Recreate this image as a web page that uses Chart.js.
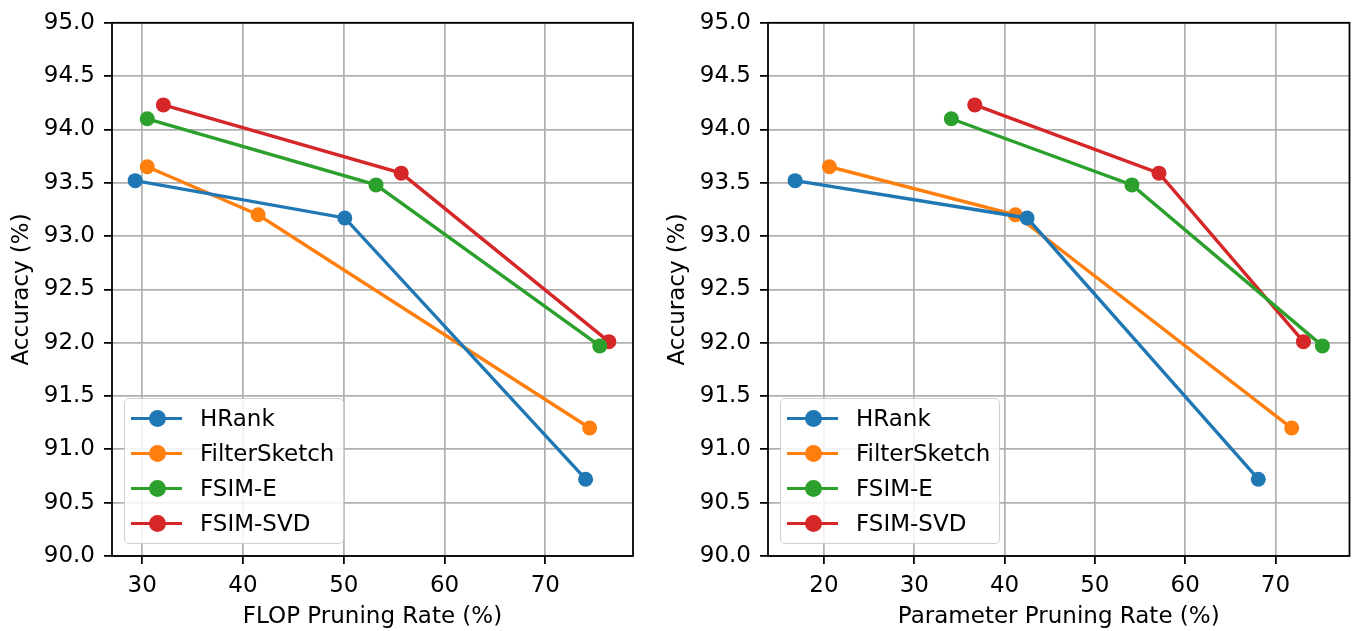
<!DOCTYPE html>
<html>
<head>
<meta charset="utf-8">
<script src="https://cdn.jsdelivr.net/npm/chart.js@4.4.1/dist/chart.umd.min.js"></script>
<style>
html,body{margin:0;padding:0;background:#fff;width:1357px;height:631px;overflow:hidden;}
.panel{position:absolute;top:0;height:631px;}
.panel canvas{display:block;}
.legend{position:absolute;box-sizing:border-box;border:1.3px solid #cfcfcf;border-radius:5px;background:rgba(255,255,255,0.85);font-family:"DejaVu Sans";font-size:23px;color:#000;}
.row{position:absolute;left:0;width:100%;height:35px;}
.hline{position:absolute;left:6px;width:51px;height:3.4px;top:16px;}
.hdot{position:absolute;left:24px;width:17px;height:17px;border-radius:50%;top:9px;}
.htxt{position:absolute;left:75px;top:0;line-height:35px;white-space:nowrap;}
</style>
</head>
<body>
<div class="panel" id="p1" style="left:0;width:656px;"><canvas id="c1" width="656" height="631"></canvas></div>
<div class="panel" id="p2" style="left:656px;width:701px;"><canvas id="c2" width="701" height="631"></canvas></div>
<script>
// ---- data ----
const methods = ['HRank', 'FilterSketch', 'FSIM-E', 'FSIM-SVD'];
const colors = ['#1f77b4', '#ff7f0e', '#2ca02c', '#d62728'];

const accHRank = [93.52, 93.17, 90.72];
const accFilterSketch = [93.65, 93.20, 91.20];
const accFSIME = [94.10, 93.48, 91.97];
const accFSIMSVD = [94.23, 93.59, 92.01];

const flopHRank = [29.3, 50.1, 74.0];
const flopFilterSketch = [30.5, 41.5, 74.4];
const flopFSIME = [30.5, 53.2, 75.4];
const flopFSIMSVD = [32.1, 55.7, 76.3];

const paramHRank = [16.8, 42.5, 68.1];
const paramFilterSketch = [20.6, 41.2, 71.8];
const paramFSIME = [34.1, 54.1, 75.2];
const paramFSIMSVD = [36.7, 57.1, 73.1];

const yTickValues = [90.0, 90.5, 91.0, 91.5, 92.0, 92.5, 93.0, 93.5, 94.0, 94.5, 95.0];
const flopTicks = [30, 40, 50, 60, 70];
const paramTicks = [20, 30, 40, 50, 60, 70];

const accs = [accHRank, accFilterSketch, accFSIME, accFSIMSVD];
const flops = [flopHRank, flopFilterSketch, flopFSIME, flopFSIMSVD];
const params = [paramHRank, paramFilterSketch, paramFSIME, paramFSIMSVD];

// ---- chart setup ----
const FS = 23;
Chart.defaults.font.family = 'DejaVu Sans';
Chart.defaults.font.size = FS;
Chart.defaults.color = '#000';

function makeDatasets(xs) {
  return methods.map((m, i) => ({
    label: m,
    data: xs[i].map((x, j) => ({x: x, y: accs[i][j]})),
    borderColor: colors[i],
    backgroundColor: colors[i],
    pointBackgroundColor: colors[i],
    pointBorderWidth: 0,
    pointRadius: 7.5,
    pointHoverRadius: 7.5,
    borderWidth: 3.4,
    tension: 0,
    clip: false
  }));
}

const framePlugin = {
  id: 'frame',
  afterDatasetsDraw(chart) {
    const {ctx, chartArea: a} = chart;
    ctx.save();
    ctx.strokeStyle = '#000';
    ctx.lineWidth = 1.8;
    ctx.strokeRect(a.left, a.top, a.right - a.left, a.bottom - a.top);
    ctx.restore();
  }
};

function legendPlugin(panelId) {
  return {
    id: 'htmlLegend',
    afterRender(chart) {
      const panel = document.getElementById(panelId);
      if (panel.querySelector('.legend')) return;
      const a = chart.chartArea;
      const box = document.createElement('div');
      box.className = 'legend';
      const w = 220, h = 146;
      box.style.left = (a.left + 12) + 'px';
      box.style.top = (a.bottom - 12 - h) + 'px';
      box.style.width = w + 'px';
      box.style.height = h + 'px';
      chart.data.datasets.forEach((ds, i) => {
        const row = document.createElement('div');
        row.className = 'row';
        row.style.top = (1.5 + i * 35) + 'px';
        const ln = document.createElement('div');
        ln.className = 'hline';
        ln.style.background = ds.borderColor;
        const dot = document.createElement('div');
        dot.className = 'hdot';
        dot.style.background = ds.borderColor;
        const tx = document.createElement('div');
        tx.className = 'htxt';
        tx.textContent = ds.label;
        row.appendChild(ln); row.appendChild(dot); row.appendChild(tx);
        box.appendChild(row);
      });
      panel.appendChild(box);
    }
  };
}

function makeChart(canvasId, panelId, xs, xTicks, xMin, xMax, xTitle, padRight) {
  return new Chart(document.getElementById(canvasId), {
    type: 'line',
    data: {datasets: makeDatasets(xs)},
    options: {
      responsive: false,
      animation: false,
      devicePixelRatio: 1,
      layout: {padding: {left: 0, top: 17, right: padRight, bottom: 0}},
      plugins: {legend: {display: false}, tooltip: {enabled: false}},
      scales: {
        x: {
          type: 'linear',
          min: xMin,
          max: xMax,
          afterBuildTicks(scale) { scale.ticks = xTicks.map(v => ({value: v})); },
          afterFit(scale) { scale.height = 75; },
          ticks: {padding: 8, color: '#000', font: {size: FS}, callback: v => String(v)},
          grid: {color: '#b0b0b0', lineWidth: 1.75, drawTicks: true, tickLength: 8, tickColor: '#000', tickWidth: 1.8},
          border: {display: false},
          title: {display: true, text: xTitle, color: '#000', font: {size: FS}, padding: {top: 0, bottom: 0}}
        },
        y: {
          type: 'linear',
          min: 90,
          max: 95,
          afterBuildTicks(scale) { scale.ticks = yTickValues.map(v => ({value: v})); },
          afterFit(scale) { scale.width = 112; },
          ticks: {padding: 9, color: '#000', font: {size: FS}, callback: v => Number(v).toFixed(1)},
          grid: {color: '#b0b0b0', lineWidth: 1.75, drawTicks: true, tickLength: 8, tickColor: '#000', tickWidth: 1.8},
          border: {display: false},
          title: {display: true, text: 'Accuracy (%)', color: '#000', font: {size: FS}, padding: {top: 8, bottom: 0}}
        }
      }
    },
    plugins: [framePlugin, legendPlugin(panelId)]
  });
}

makeChart('c1', 'p1', flops, flopTicks, 27.0, 78.7, 'FLOP Pruning Rate (%)', 23);
makeChart('c2', 'p2', params, paramTicks, 13.8, 78.2, 'Parameter Pruning Rate (%)', 5);
</script>
</body>
</html>
